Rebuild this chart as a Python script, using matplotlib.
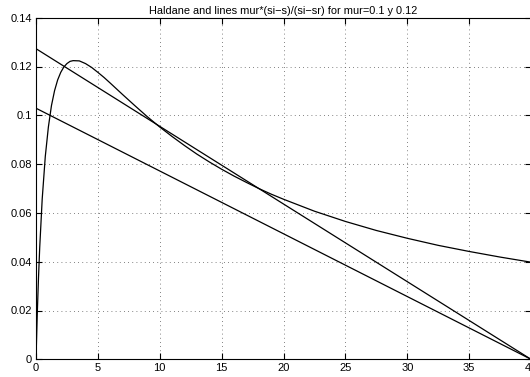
import matplotlib
matplotlib.use("Agg")
import matplotlib.pyplot as plt

plt.rcParams["font.family"] = ["Liberation Sans", "DejaVu Sans"]

# Haldane curve, values
s_curve = [0, 0.1, 0.2, 0.3, 0.5, 0.75, 1, 1.25, 1.5, 1.75, 2, 2.25, 2.5, 2.75,
           3, 3.5, 4, 4.5, 5, 5.5, 6, 7, 8, 9, 10, 11, 12, 13, 14, 15, 16, 17,
           18, 19, 20, 22.5, 25, 27.5, 30, 32.5, 35, 37.5, 40]
mu_curve = [0, 0.0182, 0.0332, 0.0458, 0.0656, 0.0831, 0.0952, 0.1040, 0.1101,
            0.1145, 0.1176, 0.1198, 0.1212, 0.1221, 0.1224, 0.1223, 0.1212,
            0.1196, 0.1176, 0.1155, 0.1132, 0.1085, 0.1039, 0.0994, 0.0952,
            0.0913, 0.0876, 0.0841, 0.0809, 0.0779, 0.0751, 0.0725, 0.0700,
            0.0677, 0.0656, 0.0607, 0.0565, 0.0528, 0.0496, 0.0467, 0.0442,
            0.0419, 0.0398]

# straight lines mur*(si-s)/(si-sr), end points
s_line = [0, 40]
line_mur01 = [0.1029, 0]
line_mur012 = [0.1273, 0]

fig = plt.figure(figsize=(5.3, 3.77), dpi=100)
ax = fig.add_axes([36 / 530, 17.7 / 377, 495 / 530, 341.6 / 377])

ax.plot(s_curve, mu_curve, color="black", lw=0.9)
ax.plot(s_line, line_mur012, color="black", lw=0.9)
ax.plot(s_line, line_mur01, color="black", lw=0.9)

ax.set_xlim(0, 40)
ax.set_ylim(0, 0.14)
ax.set_xticks(range(0, 45, 5))
ax.set_yticks([0, 0.02, 0.04, 0.06, 0.08, 0.1, 0.12, 0.14])
ax.set_yticklabels(["0", "0.02", "0.04", "0.06", "0.08", "0.1", "0.12", "0.14"])
ax.grid(True, linestyle=(0, (1, 4)), color="0.35", lw=0.6)
ax.tick_params(direction="in", length=4, width=0.8, labelsize=8,
               top=True, right=True, pad=3)
for sp in ax.spines.values():
    sp.set_linewidth(0.8)

ax.set_title("Haldane and lines mur*(si\u2212s)/(si\u2212sr) for mur=0.1 y 0.12",
             fontsize=7.9, pad=3)

fig.savefig("out.png", dpi=100)
